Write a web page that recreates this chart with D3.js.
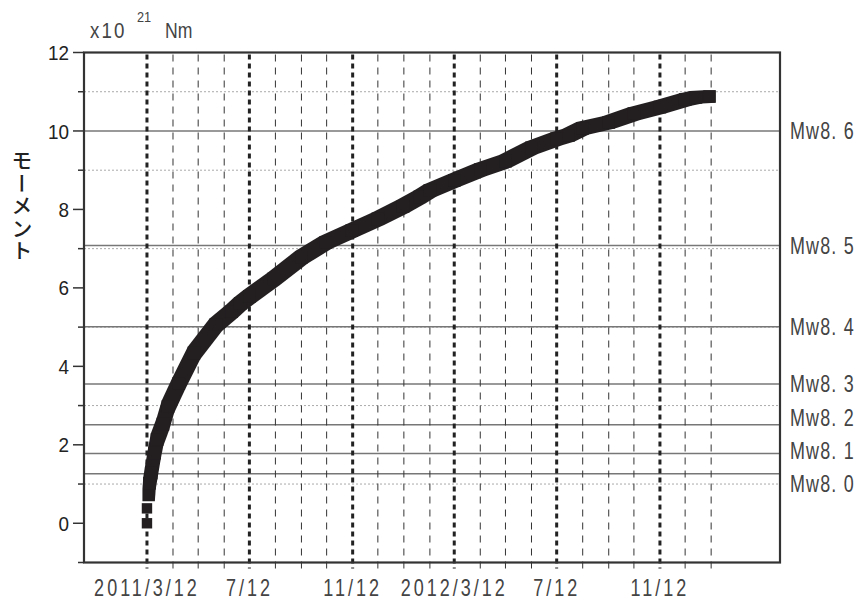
<!DOCTYPE html>
<html><head><meta charset="utf-8">
<script src="https://cdn.jsdelivr.net/npm/d3@7"></script>
<style>body{margin:0;background:#fff}svg{display:block}</style>
</head><body>
<svg id="chart" width="857" height="601"></svg>
<script>
// ---- data ----
const momentDates = ["2011-03-12","2011-03-12","2011-03-14","2011-03-15","2011-03-17","2011-03-21","2011-03-24",
  "2011-03-31","2011-04-06","2011-04-19","2011-05-07","2011-06-02","2011-06-21","2011-07-01","2011-07-12",
  "2011-08-10","2011-09-12","2011-10-11","2011-11-11","2011-12-12","2012-01-11","2012-01-31","2012-02-12",
  "2012-03-12","2012-04-12","2012-05-12","2012-06-12","2012-07-12","2012-07-26","2012-08-12","2012-09-12",
  "2012-10-12","2012-11-12","2012-12-12","2012-12-25","2013-01-10"];
const momentValues = [0.00,0.38,0.72,1.02,1.28,1.79,2.13,
  2.53,2.97,3.57,4.34,5.06,5.40,5.60,5.78,
  6.23,6.78,7.16,7.46,7.76,8.08,8.32,8.48,
  8.74,9.01,9.23,9.57,9.80,9.89,10.07,10.22,
  10.44,10.61,10.80,10.86,10.88];
const mwLabels = ["Mw8. 0","Mw8. 1","Mw8. 2","Mw8. 3","Mw8. 4","Mw8. 5","Mw8. 6"];
const mwMoments = [1.26,1.78,2.51,3.55,5.01,7.08,10.0];
const dottedLevels = [1,3,5,7,9,11];
const yTickValues = [-1,0,1,2,3,4,5,6,7,8,9,10,11,12];
const yLabelValues = [0,2,4,6,8,10,12];
const yTickLabels = ["0","2","4","6","8","10","12"];
const xLabelDates = ["2011-03-12","2011-07-12","2011-11-12","2012-03-12","2012-07-12","2012-11-12"];
const xTickLabels = ["2011/3/12","7/12","11/12","2012/3/12","7/12","11/12"];
const xDomain = ["2010-12-27","2013-04-04"];
const gridRange = ["2011-03-12","2013-01-12"];
const yDomain = [-1, 12];
const unitMain = "x10", unitExp = "21", unitName = "Nm";
const yTitle = "モーメント";

// ---- setup ----
const parse = d3.timeParse("%Y-%m-%d");
const svg = d3.select("#chart");
const L = 84, R = 780, T = 52.5, B = 562.5;
const x = d3.scaleTime().domain(xDomain.map(parse)).range([L, R]);
const y = d3.scaleLinear().domain(yDomain).range([B, T]);
const sansFont = "'Liberation Sans', Arial, sans-serif";

// dotted gridlines
svg.append("g").selectAll("line").data(dottedLevels).join("line")
  .attr("x1", L).attr("x2", R).attr("y1", d => y(d)).attr("y2", d => y(d))
  .attr("stroke", "#aaa").attr("stroke-width", 1).attr("stroke-dasharray", "2,2");

// Mw reference lines
svg.append("g").selectAll("line").data(mwMoments).join("line")
  .attr("x1", L).attr("x2", R).attr("y1", d => y(d)).attr("y2", d => y(d))
  .attr("stroke", "#777").attr("stroke-width", 1.5);

// vertical monthly grid
const g0 = parse(gridRange[0]), g1 = parse(gridRange[1]);
const gridDates = d3.timeMonth.range(d3.timeMonth.floor(g0), d3.timeMonth.offset(d3.timeMonth.floor(g1), 1))
  .map(m => d3.timeDay.offset(m, 11));
const majorSet = new Set(xLabelDates.map(s => +parse(s)));
svg.append("g").selectAll("line").data(gridDates.filter(d => !majorSet.has(+d))).join("line")
  .attr("x1", d => x(d)).attr("x2", d => x(d)).attr("y1", T + 2).attr("y2", B + 6)
  .attr("stroke", "#333").attr("stroke-width", 1).attr("stroke-dasharray", "7,6");
svg.append("g").selectAll("line").data(xLabelDates.map(parse)).join("line")
  .attr("x1", d => x(d)).attr("x2", d => x(d)).attr("y1", T + 2).attr("y2", B + 6)
  .attr("stroke", "#222").attr("stroke-width", 3).attr("stroke-dasharray", "5,4");

// ---- moment curve (square markers swept along the series) ----
const pts = momentDates.map((d, i) => [x(parse(d)), y(momentValues[i])]);
const h = 6.2;
const sq = (p, s) => [[p[0]-s,p[1]-s],[p[0]+s,p[1]-s],[p[0]+s,p[1]+s],[p[0]-s,p[1]+s]];
const band = svg.append("g").attr("fill", "#231f20");
for (let i = 2; i < pts.length - 1; i++) {
  const hull = d3.polygonHull(sq(pts[i], h).concat(sq(pts[i+1], h)));
  band.append("path").attr("d", "M" + hull.join("L") + "Z");
}
band.selectAll("rect").data(pts).join("rect")
  .attr("x", (d, i) => d[0] - (i < 3 ? 5.2 : h)).attr("y", (d, i) => d[1] - (i < 3 ? 5.2 : h))
  .attr("width", (d, i) => i < 3 ? 10.4 : 2*h).attr("height", (d, i) => i < 3 ? 10.4 : 2*h);

// ---- frame ----
svg.append("rect").attr("x", L).attr("y", T).attr("width", R - L).attr("height", B - T)
  .attr("fill", "none").attr("stroke", "#333").attr("stroke-width", 2.2);

// y ticks
svg.append("g").selectAll("line").data(yTickValues).join("line")
  .attr("x1", d => yLabelValues.includes(d) ? L - 11 : L - 6).attr("x2", L)
  .attr("y1", d => y(d)).attr("y2", d => y(d))
  .attr("stroke", "#333").attr("stroke-width", 1.5);
svg.append("g").selectAll("text").data(yLabelValues).join("text")
  .attr("transform", d => `translate(69,${y(d)}) scale(0.9,1)`).attr("dy", "0.36em")
  .attr("text-anchor", "end").attr("font-family", sansFont).attr("font-size", 21)
  .attr("fill", "#222").text((d, i) => yTickLabels[i]);

// x labels
svg.append("g").selectAll("text").data(xLabelDates).join("text")
  .attr("transform", d => `translate(${x(parse(d))},596) scale(0.75,1)`)
  .attr("text-anchor", "middle").attr("font-family", sansFont).attr("font-size", 24)
  .attr("letter-spacing", 4).attr("fill", "#444").text((d, i) => xTickLabels[i]);

// Mw labels with simple overlap relaxation
const lab = mwMoments.map((m, i) => ({ t: mwLabels[i], y: y(m) })).sort((a, b) => a.y - b.y);
for (let it = 0; it < 200; it++) {
  for (let i = 0; i < lab.length - 1; i++) {
    const gap = lab[i+1].y - lab[i].y, need = 33;
    if (gap < need) { const d = (need - gap) / 2; lab[i].y -= d; lab[i+1].y += d; }
  }
}
svg.append("g").selectAll("text").data(lab).join("text")
  .attr("transform", d => `translate(790,${d.y}) scale(0.78,1)`).attr("dy", "0.36em")
  .attr("font-family", sansFont).attr("font-size", 23).attr("letter-spacing", 1.5)
  .attr("fill", "#444").text(d => d.t);

// unit label
svg.append("text").attr("transform", "translate(90,38) scale(0.85,1)").attr("font-family", sansFont)
  .attr("font-size", 22).attr("letter-spacing", 2.5).attr("fill", "#444").text(unitMain);
svg.append("text").attr("transform", "translate(137,22) scale(0.85,1)").attr("font-family", sansFont)
  .attr("font-size", 15).attr("fill", "#444").text(unitExp);
svg.append("text").attr("transform", "translate(165,38) scale(0.8,1)").attr("font-family", sansFont)
  .attr("font-size", 22).attr("fill", "#444").text(unitName);

// y title (vertical)
svg.append("text").attr("x", 22).attr("y", 206)
  .attr("style", "writing-mode: vertical-rl; text-orientation: upright;")
  .attr("text-anchor", "middle").attr("font-family", "'Noto Sans CJK JP', sans-serif")
  .attr("font-size", 21).attr("font-weight", 500).attr("letter-spacing", 1.5).attr("fill", "#222").text(yTitle);
</script>
</body></html>
